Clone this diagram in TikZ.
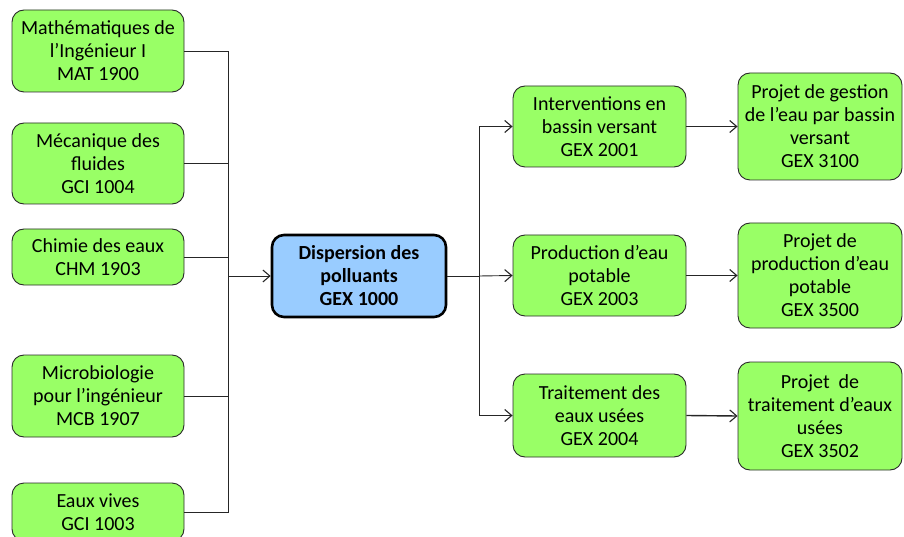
\documentclass[tikz,border=0pt]{standalone}
\usepackage{fontspec}
\setmainfont{Carlito}
\usetikzlibrary{arrows.meta}
\definecolor{boxgreen}{HTML}{99FF66}
\definecolor{boxblue}{HTML}{99CCFF}
\definecolor{edge}{HTML}{2A2A2A}
\begin{document}
\begin{tikzpicture}[x=1pt,y=-1pt,
  course/.style={draw=edge,line width=0.9pt,fill=boxgreen,rounded corners=12pt,
    align=center,inner sep=0pt,font=\fontsize{20}{23}\selectfont},
  central/.style={draw=black,line width=2.6pt,fill=boxblue,rounded corners=12pt,
    align=center,inner sep=0pt,font=\fontsize{20}{23}\selectfont\bfseries},
  link/.style={draw=black!85,line width=0.9pt},
  arr/.style={link,-{Straight Barb[length=7pt,width=12pt,line width=1.1pt]}}]
\useasboundingbox (0,0) rectangle (904,537);
\begin{scope}
\clip (0,0) rectangle (904,537);
% left column
\node[course,minimum width=172,minimum height=82] (m1) at (98,51) {Mathématiques de\\l’Ingénieur I\\MAT 1900};
\node[course,minimum width=172,minimum height=81] (m2) at (98,163.5) {Mécanique des\\fluides\\GCI 1004};
\node[course,minimum width=172,minimum height=56] (m3) at (98,257) {Chimie des eaux\\CHM 1903};
\node[course,minimum width=172,minimum height=82] (m4) at (98,396) {Microbiologie\\pour l’ingénieur\\MCB 1907};
\node[course,minimum width=172,minimum height=58] (m5) at (98,512) {Eaux vives\\GCI 1003};
% central
\node[central,minimum width=174,minimum height=82] (c) at (359,276) {Dispersion des\\polluants\\GEX 1000};
% middle column
\node[course,minimum width=173,minimum height=81] (a) at (599.5,126.5) {Interventions en\\bassin versant\\GEX 2001};
\node[course,minimum width=173,minimum height=81] (b) at (599.5,275.5) {Production d’eau\\potable\\GEX 2003};
\node[course,minimum width=173,minimum height=83] (e) at (599.5,415.5) {Traitement des\\eaux usées\\GEX 2004};
% right column
\node[course,minimum width=164,minimum height=107] (d) at (820,126.5) {Projet de gestion\\de l’eau par bassin\\versant\\GEX 3100};
\node[course,minimum width=164,minimum height=105] (f) at (820,275.5) {Projet de\\production d’eau\\potable\\GEX 3500};
\node[course,minimum width=164,minimum height=108] (g) at (820,416) {Projet~ de\\traitement d’eaux\\usées\\GEX 3502};
\end{scope}
% left bus
\coordinate (lbus) at (228,276);
\draw[link] (m1.east) -| (lbus);
\draw[link] (m5.east) -| (lbus);
\draw[link] (m2.east) -- (m2.east -| lbus);
\draw[link] (m3.east) -- (m3.east -| lbus);
\draw[link] (m4.east) -- (m4.east -| lbus);
\draw[arr] (lbus) -- (c.west);
% right bus
\coordinate (rbus) at (479,276);
\draw[link] (c.east) -- (rbus);
\draw[arr] (rbus) |- (a.west);
\draw[arr] (rbus) -- (b.west);
\draw[arr] (rbus) |- (e.west);
% to projects
\draw[arr] (a.east) -- (d.west);
\draw[arr,line width=1.4pt] (b.east) -- (f.west);
\draw[arr,line width=1.4pt] (e.east) -- (g.west);
\end{tikzpicture}
\end{document}
